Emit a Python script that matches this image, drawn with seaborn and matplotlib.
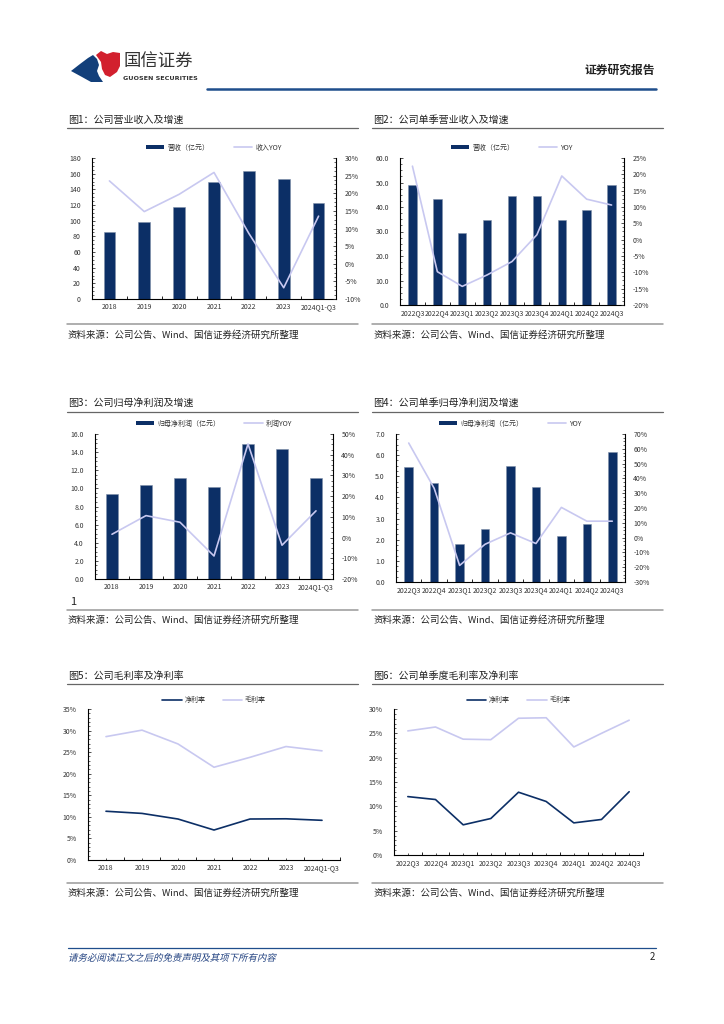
import numpy as np
import pandas as pd
import matplotlib
matplotlib.use('Agg')
import matplotlib.pyplot as plt
import seaborn as sns
from matplotlib.patches import Polygon, Patch, PathPatch
from matplotlib.lines import Line2D
from matplotlib.textpath import TextPath
from matplotlib.font_manager import FontProperties
from matplotlib.transforms import Affine2D
from matplotlib.ticker import FuncFormatter, MultipleLocator, FixedLocator

# data
years = ['2018', '2019', '2020', '2021', '2022', '2023', '2024Q1-Q3']
quarters = ['2022Q3', '2022Q4', '2023Q1', '2023Q2', '2023Q3', '2023Q4', '2024Q1', '2024Q2', '2024Q3']

rev_year = [86, 98, 118, 149, 163.5, 153, 122]
rev_year_yoy = [23.5, 14.8, 19.7, 25.9, 8.6, -6.8, 13.5]

rev_q = [49.0, 43.3, 29.3, 34.7, 44.6, 44.4, 34.7, 38.8, 49.0]
rev_q_yoy = [22.5, -9.8, -14.3, -10.8, -6.7, 1.5, 19.5, 12.4, 10.6]

np_year = [9.4, 10.4, 11.2, 10.2, 14.9, 14.35, 11.15]
np_year_yoy = [1.6, 10.6, 7.4, -8.9, 45.2, -3.7, 12.9]

np_q = [5.42, 4.67, 1.79, 2.49, 5.5, 4.51, 2.17, 2.74, 6.17]
np_q_yoy = [63.9, 33.3, -18.8, -4.5, 3.2, -4.0, 20.4, 11.1, 11.1]

net_margin_year = [11.3, 10.8, 9.5, 6.95, 9.5, 9.55, 9.2]
gross_margin_year = [28.6, 30.1, 26.9, 21.5, 23.8, 26.3, 25.3]

net_margin_q = [12.0, 11.4, 6.2, 7.5, 12.9, 11.0, 6.6, 7.3, 13.0]
gross_margin_q = [25.5, 26.3, 23.8, 23.7, 28.1, 28.2, 22.2, 25.0, 27.7]

NAVY = '#0c2f66'
LAV = '#c8c8f0'
GRAY = '#333333'

sns.set_theme(style='white')
plt.rcParams['font.family'] = ['Noto Sans CJK SC', 'DejaVu Sans']
plt.rcParams['axes.unicode_minus'] = False

W, H = 724, 1024
DPI = 100
fig = plt.figure(figsize=(W / DPI, H / DPI), dpi=DPI)


def fx(x):
    return x / W


def fy(y):
    return 1 - y / H


def rect(l, t, r, b):
    return [fx(l), fy(b), (r - l) / W, (b - t) / H]


def hline(x0, x1, y, color, lw):
    fig.add_artist(Line2D([fx(x0), fx(x1)], [fy(y), fy(y)], color=color, lw=lw))


def poly(points, color):
    fig.add_artist(Polygon([(fx(x), fy(y)) for x, y in points], closed=True,
                           facecolor=color, edgecolor='none', transform=fig.transFigure))


def pct(v, pos):
    return '%d%%' % round(v)


def style_x(ax, n):
    ax.set_xlim(-0.5, n - 0.5)
    ax.xaxis.set_minor_locator(FixedLocator(np.arange(n + 1) - 0.5))
    ax.tick_params(axis='x', which='major', length=0, labelsize=5, pad=3, colors=GRAY)
    ax.tick_params(axis='x', which='minor', length=2, width=0.6, direction='in', color='black', bottom=True)
    ax.set_xlabel('')


def bar_line_chart(box, cats, bars, yoy, bar_label, line_label,
                   ylim, ystep, yfmt, y2lim, y2step):
    ax = fig.add_axes(rect(*box))
    df = pd.DataFrame({'cat': cats, 'val': bars})
    sns.barplot(data=df, x='cat', y='val', color=NAVY, saturation=1, width=0.34,
                edgecolor='#7f8fa8', linewidth=0.4, ax=ax)
    ax2 = ax.twinx()
    sns.lineplot(x=np.arange(len(cats)), y=yoy, color=LAV, linewidth=1.2, ax=ax2)

    style_x(ax, len(cats))
    ax.set_ylim(*ylim)
    ax.yaxis.set_major_locator(MultipleLocator(ystep))
    ax.yaxis.set_minor_locator(MultipleLocator(ystep / 4))
    ax.yaxis.set_major_formatter(FuncFormatter(lambda v, p: yfmt % v))
    ax.tick_params(axis='y', which='major', length=2.5, width=0.6, direction='in',
                   labelsize=5, colors=GRAY, pad=8, left=True)
    ax.tick_params(axis='y', which='minor', length=1.2, width=0.5, direction='in', left=True)
    ax.set_ylabel('')

    ax2.set_ylim(*y2lim)
    ax2.yaxis.set_major_locator(MultipleLocator(y2step))
    ax2.yaxis.set_minor_locator(MultipleLocator(y2step / 4))
    ax2.yaxis.set_major_formatter(FuncFormatter(pct))
    ax2.tick_params(axis='y', which='major', length=2.5, width=0.6, direction='in',
                    labelsize=5, colors=GRAY, pad=6, right=True)
    ax2.tick_params(axis='y', which='minor', length=1.2, width=0.5, direction='in', right=True)
    ax2.set_ylabel('')

    for a in (ax, ax2):
        for s in a.spines.values():
            s.set_visible(False)
    for s in ('left', 'bottom'):
        ax.spines[s].set_visible(True)
        ax.spines[s].set_color('black')
        ax.spines[s].set_linewidth(0.8)
    ax2.spines['right'].set_visible(True)
    ax2.spines['right'].set_color('black')
    ax2.spines['right'].set_linewidth(0.8)

    handles = [Patch(facecolor=NAVY, edgecolor='none'), Line2D([], [], color=LAV, lw=1.2)]
    ax2.legend(handles, [bar_label, line_label], loc='lower center', bbox_to_anchor=(0.5, 1.0),
               ncol=2, frameon=False, fontsize=5, handlelength=2.6, handleheight=0.55,
               columnspacing=3.5, handletextpad=0.5, labelcolor=GRAY)
    return ax


def margin_chart(box, cats, net, gross, ymax):
    ax = fig.add_axes(rect(*box))
    x = np.arange(len(cats))
    sns.lineplot(x=x, y=net, color=NAVY, linewidth=1.2, ax=ax, label='净利率')
    sns.lineplot(x=x, y=gross, color=LAV, linewidth=1.2, ax=ax, label='毛利率')
    ax.set_xticks(x)
    ax.set_xticklabels(cats)
    style_x(ax, len(cats))
    ax.tick_params(axis='x', which='major', length=1.5, width=0.6, direction='in', bottom=True)
    ax.set_ylim(0, ymax)
    ax.yaxis.set_major_locator(MultipleLocator(5))
    ax.yaxis.set_minor_locator(MultipleLocator(1))
    ax.yaxis.set_major_formatter(FuncFormatter(pct))
    ax.tick_params(axis='y', which='major', length=2.5, width=0.6, direction='in',
                   labelsize=5, colors=GRAY, pad=8, left=True)
    ax.tick_params(axis='y', which='minor', length=1.2, width=0.5, direction='in', left=True)
    ax.set_ylabel('')
    for s in ax.spines.values():
        s.set_visible(False)
    for s in ('left', 'bottom'):
        ax.spines[s].set_visible(True)
        ax.spines[s].set_color('black')
        ax.spines[s].set_linewidth(0.8)
    ax.legend(loc='lower center', bbox_to_anchor=(0.5, 0.99), ncol=2, frameon=False,
              fontsize=5, handlelength=2.8, columnspacing=2.5, handletextpad=0.4,
              labelcolor=GRAY)
    return ax


# header with logo
poly([(71, 71), (80, 64), (88, 58), (93, 55), (97, 59), (99, 65), (97, 71), (99, 76),
      (103, 82), (91, 82), (82, 77)], '#123f7a')
poly([(96, 55), (101, 51), (107, 54), (113, 52), (120, 53), (120, 66), (117, 72),
      (110, 77), (105, 75), (102, 69), (101, 62)], '#d2202e')
fig.text(fx(123), fy(62), '国信证券', fontsize=12.5, color='#333333', va='center', ha='left')
fig.text(fx(123), fy(78), 'GUOSEN SECURITIES', fontsize=4.6, color='#333333', va='center',
         ha='left', fontweight='bold', family=['DejaVu Sans'])
fig.text(fx(655), fy(70), '证券研究报告', fontsize=8.5, color='#222222', va='center', ha='right',
         fontweight='bold')
hline(207, 656, 89, '#1f4e8c', 1.8)

# panel frames: titles, rules and source lines
sources = '资料来源：公司公告、Wind、国信证券经济研究所整理'
panels = [
    (68, 120, 128, 324, 335, '图1：公司营业收入及增速'),
    (373, 120, 128, 324, 335, '图2：公司单季营业收入及增速'),
    (68, 403, 412, 610, 620, '图3：公司归母净利润及增速'),
    (373, 403, 412, 610, 620, '图4：公司单季归母净利润及增速'),
    (68, 676, 684, 883, 893, '图5：公司毛利率及净利率'),
    (373, 676, 684, 883, 893, '图6：公司单季度毛利率及净利率'),
]
for x0, ty, uy, sy, sty, title in panels:
    fig.text(fx(x0), fy(ty), title, fontsize=7.2, color='#222222', va='center', ha='left')
    hline(x0 - 1, x0 + 290, uy, '#666666', 0.9)
    hline(x0 - 1, x0 + 290, sy, '#999999', 1.1)
    fig.text(fx(x0), fy(sty), sources, fontsize=6.8, color='#222222', va='center', ha='left')

fig.text(fx(70), fy(602), '1', fontsize=8, color='#222222', va='center', ha='left')

# charts
bar_line_chart((92, 158, 336, 299), years, rev_year, rev_year_yoy, '营收（亿元）', '收入YOY',
               (0, 180), 20, '%d', (-10, 30), 5)
bar_line_chart((400, 158, 624, 305), quarters, rev_q, rev_q_yoy, '营收（亿元）', 'YOY',
               (0, 60), 10, '%.1f', (-20, 25), 5)
bar_line_chart((95, 434, 333, 579), years, np_year, np_year_yoy, '归母净利润（亿元）', '利润YOY',
               (0, 16), 2, '%.1f', (-20, 50), 10)
bar_line_chart((396, 434, 625, 582), quarters, np_q, np_q_yoy, '归母净利润（亿元）', 'YOY',
               (0, 7), 1, '%.1f', (-30, 70), 10)
margin_chart((88, 709, 340, 860), years, net_margin_year, gross_margin_year, 35)
margin_chart((394, 709, 643, 855), quarters, net_margin_q, gross_margin_q, 30)

# footer, italic disclaimer drawn as a slanted text path
hline(68, 656, 948, '#1f4e8c', 0.9)
disclaimer = '请务必阅读正文之后的免责声明及其项下所有内容'
tp = TextPath((0, 0), disclaimer, size=6.8, prop=FontProperties(family='Noto Sans CJK SC'))
slant = Affine2D().scale(DPI / 72).skew_deg(14, 0).translate(68, H - 961)
fig.add_artist(PathPatch(tp, transform=slant, facecolor='#1f3f7f', edgecolor='none'))
fig.text(fx(655), fy(957), '2', fontsize=7, color='#222222', va='center', ha='right')

fig.savefig('out.png', dpi=DPI, facecolor='white')
